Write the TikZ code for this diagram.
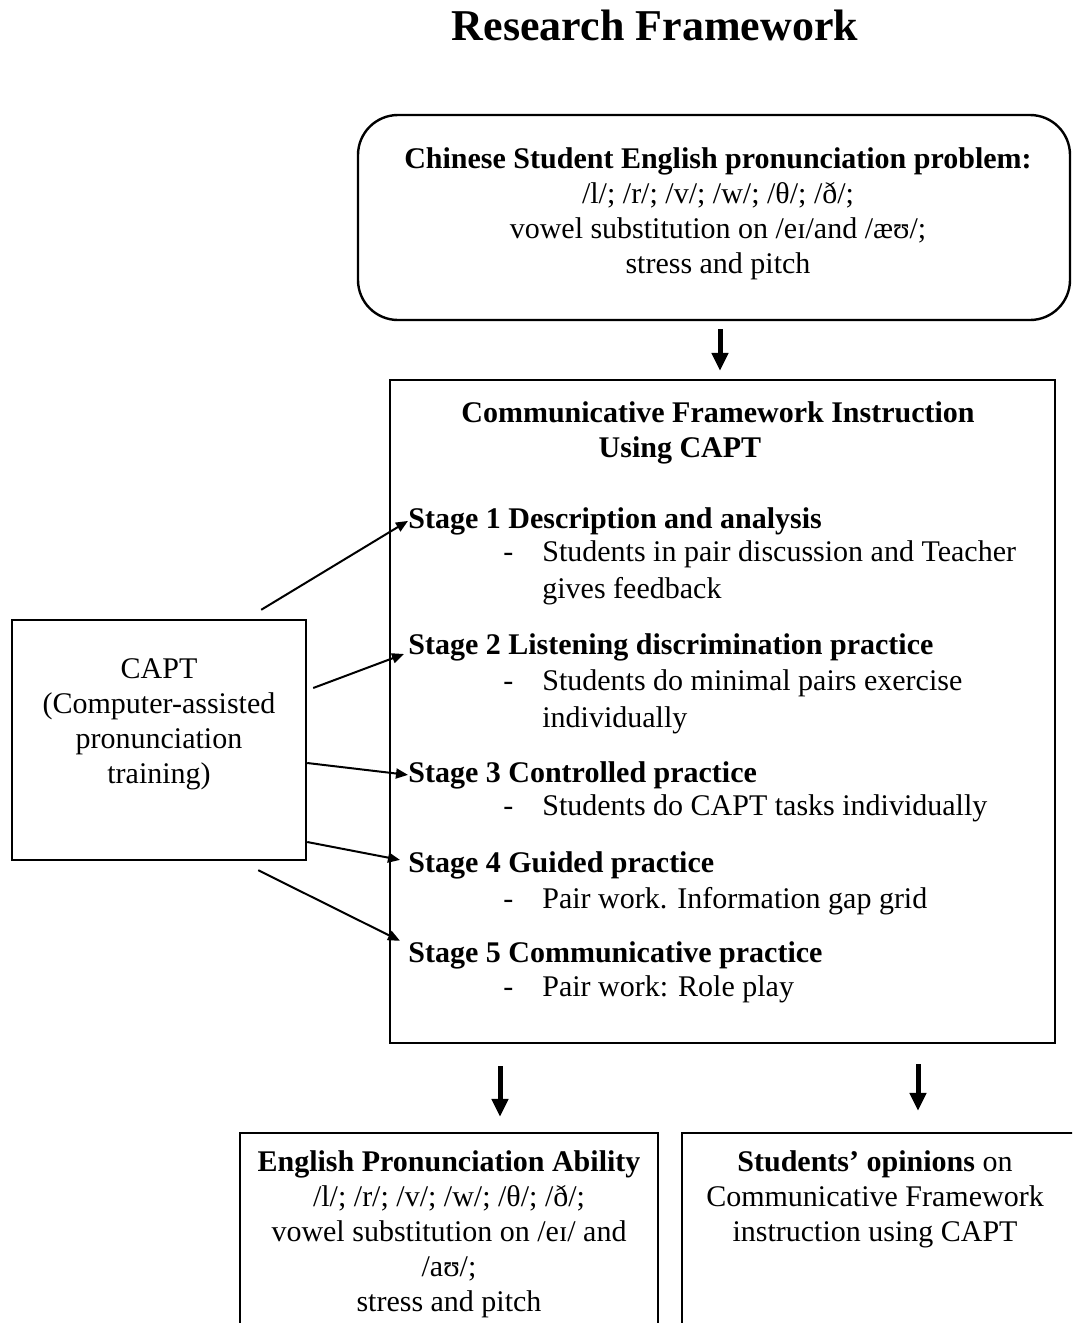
\documentclass[tikz,border=0pt]{standalone}
\usepackage{fontspec}
\setmainfont{Liberation Serif}
\usetikzlibrary{arrows.meta, positioning, calc}

\newcommand{\stagenote}[1]{\makebox[19.5pt][l]{-}\parbox[t]{260pt}{\raggedright #1}}

\begin{document}
\begin{tikzpicture}[x=0.5pt, y=-0.5pt]
        % Styles
        \tikzset{
            framebox/.style={draw, line width=1.2pt, rectangle, inner sep=0pt},
            roundbox/.style={framebox, rounded corners=20pt},
            body/.style={font=\fontsize{15}{17.5}\selectfont, align=center, inner sep=0pt},
            stagehead/.style={font=\fontsize{15}{17.5}\selectfont\bfseries, anchor=base west, inner sep=0pt},
            stagetext/.style={font=\fontsize{15}{18.5}\selectfont, anchor=base west, inner sep=0pt},
            thinarrow/.style={-{Triangle[length=6pt, width=5pt]}, line width=1pt},
            bigarrow/.style={-{Triangle[length=9pt, width=8pt]}, line width=2.5pt}
        }

        \useasboundingbox (0,0) rectangle (1072,1323);
        \clip (0,0) rectangle (1072,1323);

        % Title
        \node [font=\fontsize{22}{26}\selectfont\bfseries] (title) at (655,25) {Research Framework};

        % Problem box
        \node [roundbox, minimum width=356pt, minimum height=102.5pt,
            label={[body, xshift=2pt, yshift=2pt]center:\textbf{Chinese Student English pronunciation problem:}\\/l/; /r/; /v/; /w/; /θ/; /ð/;\\vowel substitution on /eɪ/and /æʊ/;\\stress and pitch}] (problem) at (714,217.5) {};

        % Instruction box
        \node [framebox, minimum width=332.5pt, minimum height=331.5pt] (cfi) at (722.5,711.5) {};
        \node [body, font=\fontsize{15}{17.5}\selectfont\bfseries] (cfititle) at (718,432.5)
            {Communicative Framework Instruction\\Using CAPT\hspace*{38pt}};

        \node [stagehead] (s1) at (408,528) {Stage 1 Description and analysis};
        \node [stagetext] (n1) at (503,561) {\stagenote{Students in pair discussion and Teacher\\gives feedback}};
        \node [stagehead] (s2) at (408,654) {Stage 2 Listening discrimination practice};
        \node [stagetext] (n2) at (503,690) {\stagenote{Students do minimal pairs exercise\\individually}};
        \node [stagehead] (s3) at (408,782) {Stage 3 Controlled practice};
        \node [stagetext] (n3) at (503,815) {\stagenote{Students do CAPT tasks individually}};
        \node [stagehead] (s4) at (408,872) {Stage 4 Guided practice};
        \node [stagetext] (n4) at (503,908) {\stagenote{Pair work. Information gap grid}};
        \node [stagehead] (s5) at (408,962) {Stage 5 Communicative practice};
        \node [stagetext] (n5) at (503,996) {\stagenote{Pair work: Role play}};

        % CAPT box
        \node [framebox, minimum width=147pt, minimum height=120pt,
            label={[body, yshift=8pt]center:CAPT\\(Computer-assisted\\pronunciation\\training)}] (capt) at (159,740) {};

        % Outcome boxes
        \node [framebox, minimum width=209pt, minimum height=133.5pt,
            label={[body, anchor=north, yshift=-9pt]north:\textbf{English Pronunciation Ability}\\/l/; /r/; /v/; /w/; /θ/; /ð/;\\vowel substitution on /eɪ/ and\\/aʊ/;\\stress and pitch}] (ability) at (449,1266.5) {};
        \node [framebox, minimum width=209pt, minimum height=133.5pt,
            label={[body, anchor=north, xshift=-8pt, yshift=-9pt]north:\textbf{Students’ opinions} on\\Communicative Framework\\instruction using CAPT}] (opinions) at (891,1266.5) {};

        % Arrows
        \draw [bigarrow] ([xshift=3pt, yshift=-4pt]problem.south) -- ([xshift=-1.25pt, yshift=4pt]cfi.north);
        \draw [bigarrow] ([xshift=-111.25pt, yshift=-11pt]cfi.south) -- ([xshift=25.5pt, yshift=7.5pt]ability.north);
        \draw [bigarrow] ([xshift=97.75pt, yshift=-10pt]cfi.south) -- ([xshift=13.5pt, yshift=10.5pt]opinions.north);

        \draw [thinarrow] ([xshift=-23pt, yshift=4.5pt]capt.north east) -- (s1.west);
        \draw [thinarrow] ([xshift=3pt, yshift=26pt]capt.east) -- ([xshift=-2pt]s2.base west);
        \draw [thinarrow] ([yshift=-11.5pt]capt.east) -- (s3.west);
        \draw [thinarrow] ([yshift=-51pt]capt.east) -- ([xshift=-4pt, yshift=2.5pt]s4.west);
        \draw [thinarrow] ([xshift=-24.5pt, yshift=-4.5pt]capt.south east) -- ([xshift=-4pt]s5.north west);
    \end{tikzpicture}
\end{document}
